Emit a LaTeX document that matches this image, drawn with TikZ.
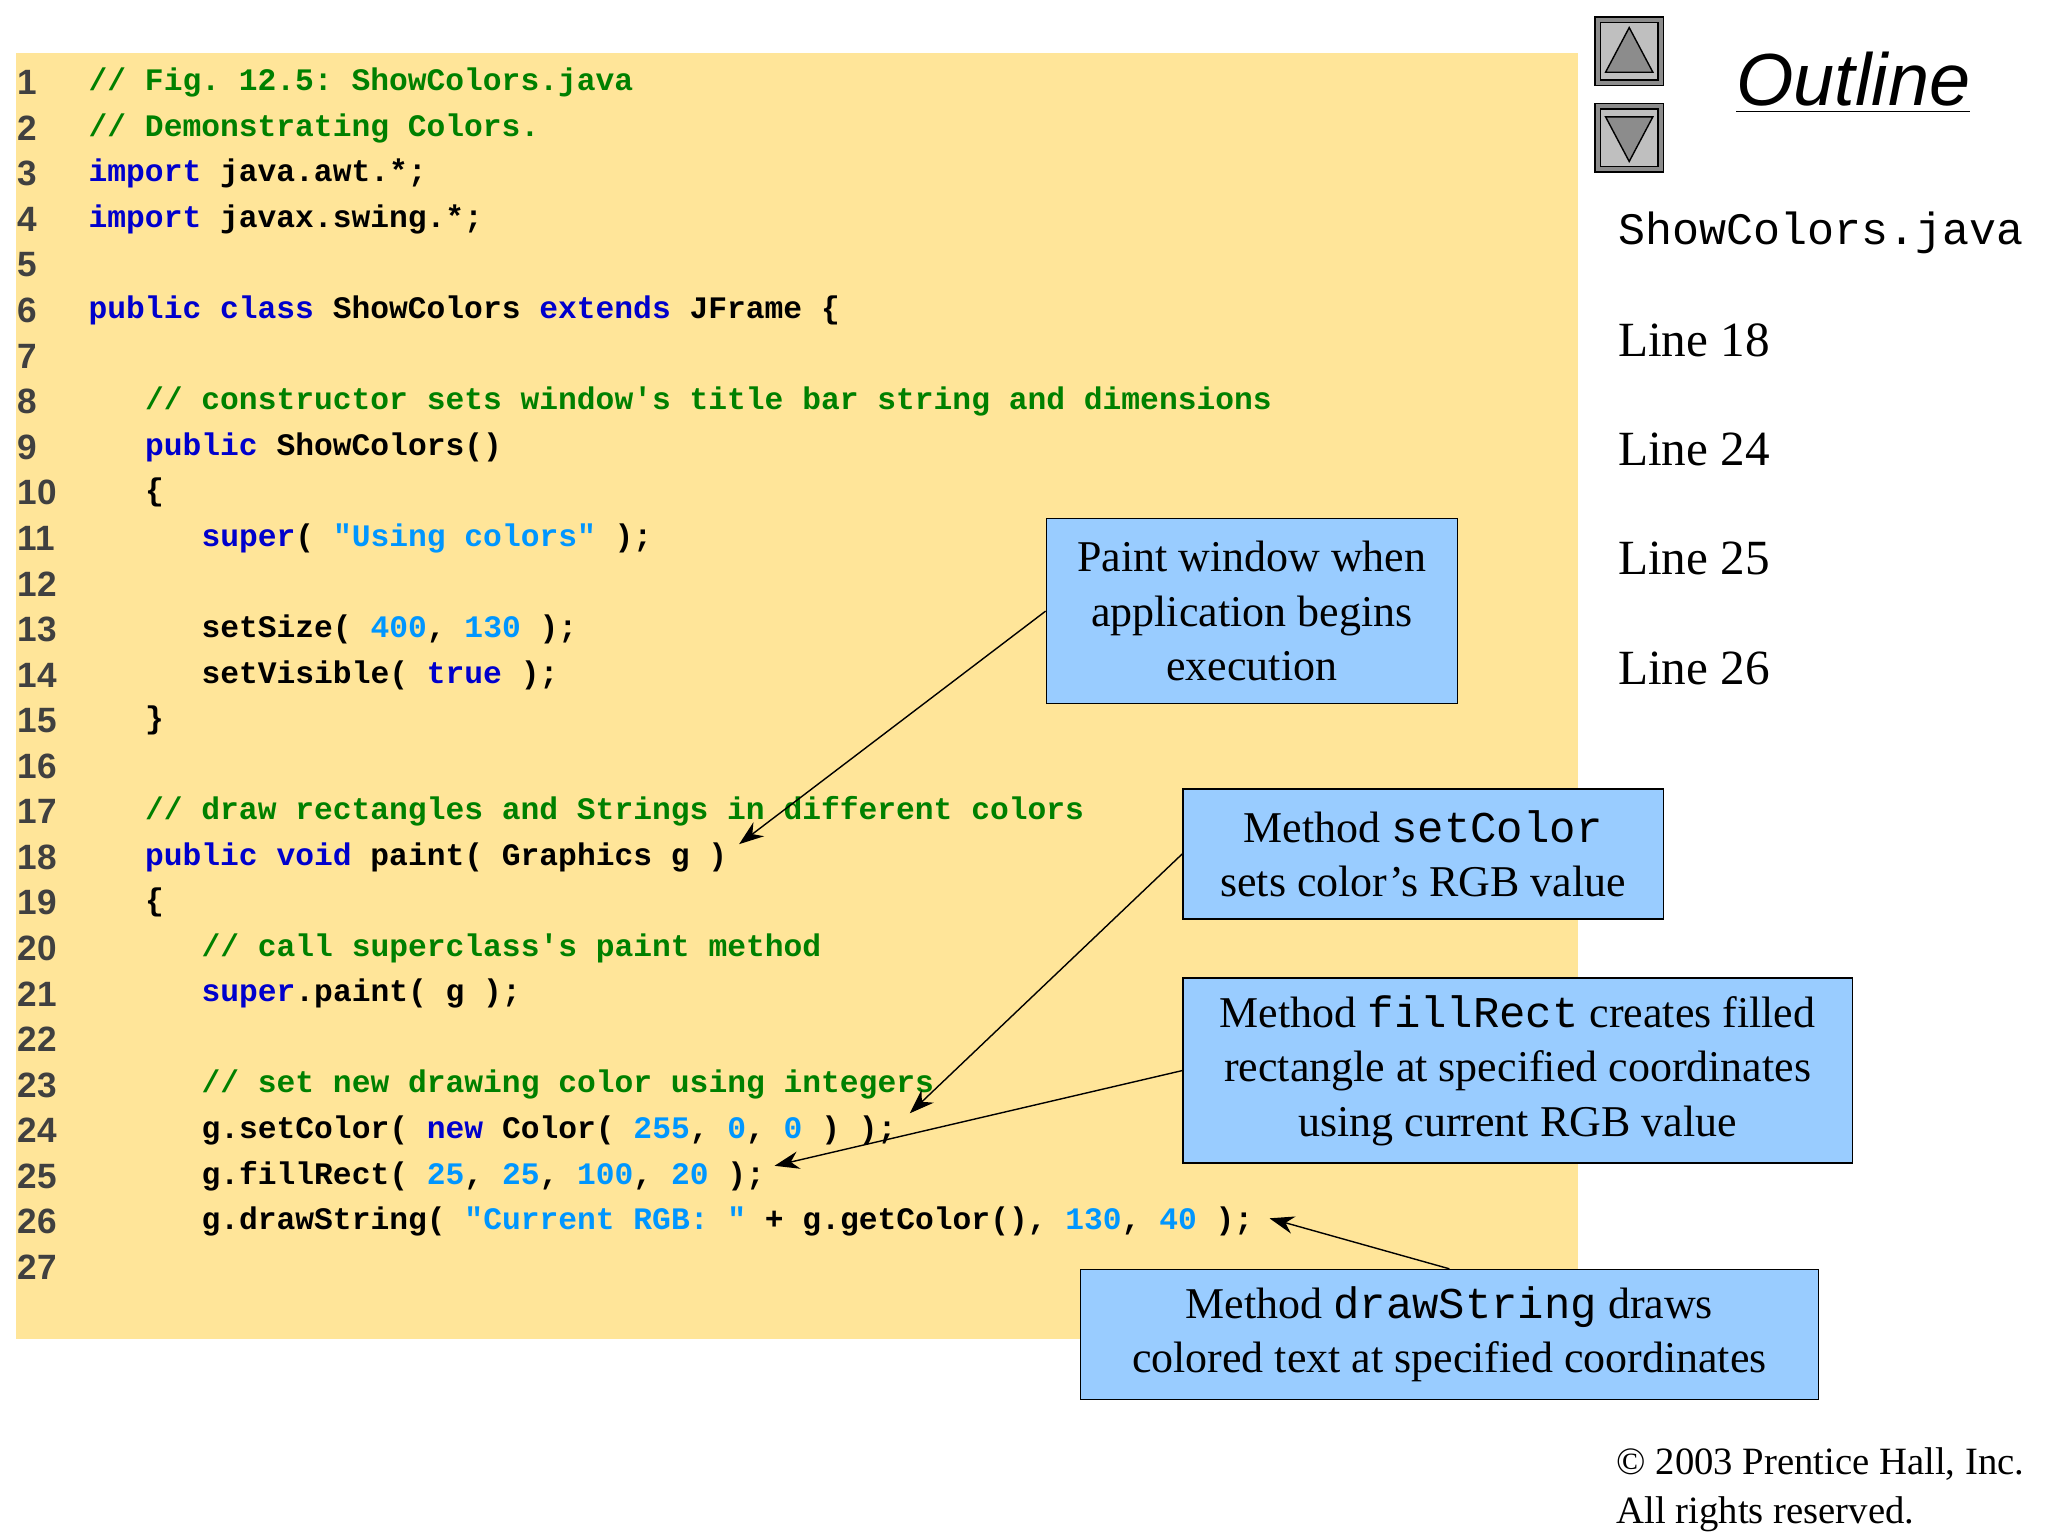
\documentclass[tikz,border=0pt]{standalone}
\usepackage{fontspec}
\setmainfont{Liberation Serif}
\setsansfont{Liberation Sans}
\setmonofont{Liberation Mono}
\usetikzlibrary{positioning,arrows.meta}
\definecolor{codebg}{RGB}{255,229,153}
\definecolor{calloutbg}{RGB}{153,204,255}
\definecolor{kwblue}{RGB}{0,0,204}
\definecolor{cmgreen}{RGB}{0,128,0}
\definecolor{litblue}{RGB}{0,150,255}
\newcommand{\kw}[1]{\textcolor{kwblue}{#1}}
\newcommand{\cm}[1]{\textcolor{cmgreen}{#1}}
\newcommand{\lit}[1]{\textcolor{litblue}{#1}}
\begin{document}
\begin{tikzpicture}[x=0.013128cm, y=-0.013128cm,
        lnum/.style={anchor=west, inner sep=0pt, font=\sffamily\bfseries\fontsize{10}{12}\selectfont, text=black!75},
        code/.style={anchor=west, inner sep=0pt, font=\ttfamily\bfseries\fontsize{8.9}{10}\selectfont},
        callout/.style={draw, fill=calloutbg, align=center, inner sep=0pt, font=\fontsize{12.5}{15.5}\selectfont},
        pointer/.style={-{Stealth[length=7pt,width=5pt]}, thin}]
    \useasboundingbox (0,0) rectangle (1560,1170);
    \fill[codebg] (12,40) rectangle (1202,1020);
    % line numbers
    \foreach \n in {1,...,27}
        \node[lnum] (n\n) at (13,{63+34.7*(\n-1)}) {\n};
    % code lines
    \node[code] (c1) at (67,63) {\cm{// Fig. 12.5: ShowColors.java}};
    \node[code] (c2) at (67,97.7) {\cm{// Demonstrating Colors.}};
    \node[code] (c3) at (67,132.4) {\kw{import} java.awt.*;};
    \node[code] (c4) at (67,167.1) {\kw{import} javax.swing.*;};
    \node[code] (c6) at (67,236.5) {\kw{public class} ShowColors \kw{extends} JFrame \{};
    \node[code] (c8) at (110,305.9) {\cm{// constructor sets window's title bar string and dimensions}};
    \node[code] (c9) at (110,340.6) {\kw{public} ShowColors()};
    \node[code] (c10) at (110,375.3) {\{};
    \node[code] (c11) at (153,410) {\kw{super}( \lit{"Using colors"} );};
    \node[code] (c13) at (153,479.4) {setSize( \lit{400}, \lit{130} );};
    \node[code] (c14) at (153,514.1) {setVisible( \kw{true} );};
    \node[code] (c15) at (110,548.8) {\}};
    \node[code] (c17) at (110,618.2) {\cm{// draw rectangles and Strings in different colors}};
    \node[code] (c18) at (110,652.9) {\kw{public void} paint( Graphics g )};
    \node[code] (c19) at (110,687.6) {\{};
    \node[code] (c20) at (153,722.3) {\cm{// call superclass's paint method}};
    \node[code] (c21) at (153,757) {\kw{super}.paint( g );};
    \node[code] (c23) at (153,826.4) {\cm{// set new drawing color using integers}};
    \node[code] (c24) at (153,861.1) {g.setColor( \kw{new} Color( \lit{255}, \lit{0}, \lit{0} ) );};
    \node[code] (c25) at (153,895.8) {g.fillRect( \lit{25}, \lit{25}, \lit{100}, \lit{20} );};
    \node[code] (c26) at (153,930.5) {g.drawString( \lit{"Current RGB: "} + g.getColor(), \lit{130}, \lit{40} );};
    % navigation buttons
    \foreach \yy/\nm in {13/up,79/down} {
        \draw[fill=black!45] (1215,\yy) rectangle ++(52,52);
        \draw[fill=black!25] (1219,\yy+4) rectangle ++(44,44);
    }
    \draw[fill=black!45] (1241,21) -- (1259,55) -- (1223,55) -- cycle;
    \draw[fill=black!45] (1241,123) -- (1259,89) -- (1223,89) -- cycle;
    % outline side
    \node[anchor=west, inner sep=0pt, font=\sffamily\itshape\fontsize{21}{24}\selectfont] (outline) at (1322,63) {\underline{Outline}};
    \node[anchor=west, inner sep=0pt, font=\ttfamily\fontsize{12.8}{15}\selectfont] (file) at (1232,177) {ShowColors.java};
    \foreach \l/\yy in {18/259,24/342,25/425,26/509}
        \node[anchor=west, inner sep=0pt, font=\fontsize{14}{16}\selectfont] (line\l) at (1232,\yy) {Line \l};
    \node[anchor=north west, inner sep=0pt, align=left, font=\fontsize{11}{14}\selectfont] (copy) at (1231,1102) {\textcopyright{} 2003 Prentice Hall, Inc.\\All rights reserved.};
    % callouts
    \node[callout, minimum width=313*0.013128cm, minimum height=141*0.013128cm] (paint) at (953.5,465.5)
        {Paint window when\\application begins\\execution};
    \node[callout, minimum width=366*0.013128cm, minimum height=99*0.013128cm] (setc) at (1084,650.5)
        {Method \texttt{setColor}\\sets color’s RGB value};
    \node[callout, minimum width=510*0.013128cm, minimum height=141*0.013128cm] (fillr) at (1156,815.5)
        {Method \texttt{fillRect} creates filled\\rectangle at specified coordinates\\using current RGB value};
    \node[callout, minimum width=562*0.013128cm, minimum height=99*0.013128cm] (draws) at (1104,1016.5)
        {Method \texttt{drawString} draws\\colored text at specified coordinates};
    % pointers
    \coordinate (p18) at (563,643);
    \coordinate (p24) at (693,848);
    \coordinate (p25) at (590,888);
    \coordinate (p26) at (967,928);
    \draw[pointer] (paint.west) -- (p18);
    \draw[pointer] (setc.west) -- (p24);
    \draw[pointer] (fillr.west) -- (p25);
    \draw[pointer] (draws.north) -- (p26);
\end{tikzpicture}
\end{document}
